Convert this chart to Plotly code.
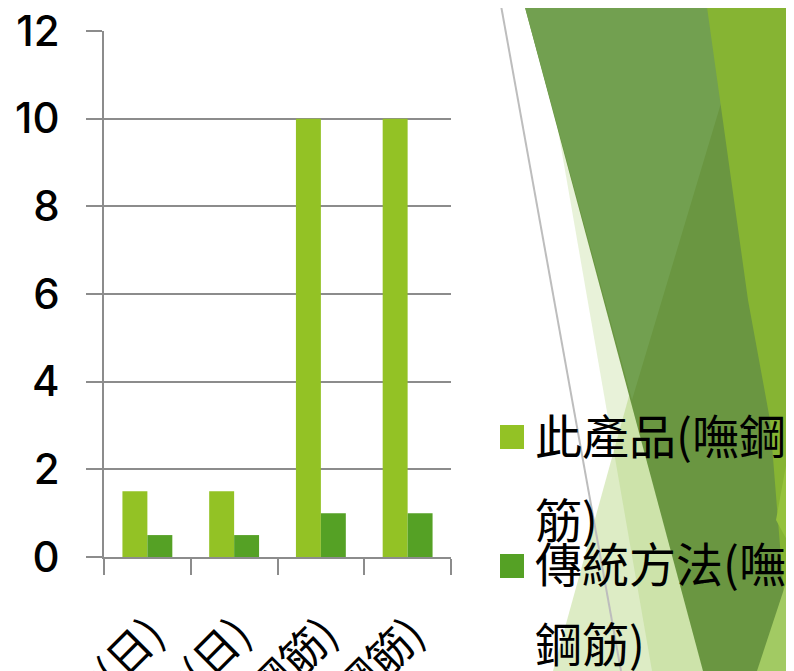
import plotly.graph_objects as go

# ---- data ----
categories = ["施工天數(日)", "養護天數(日)", "耐久年限(嘸鋼筋)", "使用年限(嘸鋼筋)"]
series_names = ["此產品(嘸鋼筋)", "傳統方法(嘸鋼筋)"]
product_values = [1.5, 1.5, 10, 10]
traditional_values = [0.5, 0.5, 1, 1]
y_tick_values = [0, 2, 4, 6, 8, 10, 12]

colors = ["#93C225", "#55A125"]

# ---- layout geometry (picture pixels; page body has an 8px offset) ----
OFF = 8
FIG_W, FIG_H = 794, 671
L, R, T, B = 104 - OFF, 451 - OFF, 31 - OFF, 557 - OFF
W, H = R - L, B - T


def px(x):
    return (x - OFF - L) / W


def py(y):
    return (B - (y - OFF)) / H


def path(points):
    return "M " + " L ".join(f"{px(x):.4f},{py(y):.4f}" for x, y in points) + " Z"


FONT = "Inter, Open Sans, Noto Sans CJK TC, sans-serif"
CJK = "Noto Sans CJK TC, sans-serif"

fig = go.Figure()
fig.add_trace(go.Bar(x=categories, y=product_values, name=series_names[0],
                     marker=dict(color=colors[0], line=dict(width=0)), showlegend=False))
fig.add_trace(go.Bar(x=categories, y=traditional_values, name=series_names[1],
                     marker=dict(color=colors[1], line=dict(width=0)), showlegend=False))

# ---- decorative background (slide theme facets) ----
bg = [
    ([(558, 130), (652, 671), (760, 671), (700, 130)], "rgba(141,191,63,0.20)"),
    ([(553, 671), (650, 320), (760, 671)], "rgba(141,191,63,0.30)"),
    ([(523, 0), (820, 0), (820, 700), (703, 671)], "#6A9641"),
    ([(523, 0), (752, 0), (632, 400)], "#72A050"),
    ([(706, 0), (820, 0), (820, 700), (790, 671), (770, 420), (748, 300)], "#86B433"),
    ([(820, 280), (820, 600), (776, 520)], "#95C23D"),
    ([(757, 671), (820, 480), (820, 700)], "#A2CA63"),
]
shapes = []
for pts, col in bg:
    shapes.append(dict(type="path", xref="paper", yref="paper", path=path(pts),
                       fillcolor=col, line=dict(width=0), layer="below"))
shapes.append(dict(type="line", xref="paper", yref="paper",
                   x0=px(500), y0=py(0), x1=px(621), y1=py(671),
                   line=dict(color="#BDBDBD", width=2), layer="below"))

# ---- legend drawn as markers + wrapped text ----
annotations = []
legend_rows = [(433, 517), (561, 641)]
marker_rows = [437, 566]
for i, name in enumerate(series_names):
    y1, y2 = legend_rows[i]
    m = marker_rows[i]
    shapes.append(dict(type="rect", xref="paper", yref="paper",
                       x0=px(500), x1=px(524), y0=py(m - 12), y1=py(m + 12),
                       fillcolor=colors[i], line=dict(width=0)))
    for txt, yy in ((name[:6], y1), (name[6:], y2)):
        annotations.append(dict(xref="paper", yref="paper", x=px(533), y=py(yy),
                                text=txt, showarrow=False, xanchor="left", yanchor="middle",
                                font=dict(family=CJK, size=47, color="#000000")))

fig.update_layout(
    template="none",
    width=FIG_W, height=FIG_H,
    margin=dict(l=L, r=FIG_W - R, t=T, b=FIG_H - B, pad=0),
    paper_bgcolor="white", plot_bgcolor="rgba(0,0,0,0)",
    barmode="group", bargap=0.425, bargroupgap=0,
    showlegend=False, hovermode=False,
    shapes=shapes, annotations=annotations,
    xaxis=dict(type="category", tickson="boundaries", ticks="outside", ticklen=16,
               tickwidth=2, tickcolor="#8C8C8C", showline=True, linecolor="#8C8C8C",
               linewidth=2, showgrid=False, zeroline=False, tickangle=-45,
               tickfont=dict(family=CJK, size=44, color="#000000"),
               automargin=False, ticklabelstandoff=32, ticklabelshift=4,
               ticklabeloverflow="allow"),
    yaxis=dict(range=[0, 12], tickvals=y_tick_values, ticks="outside", ticklen=16,
               tickwidth=2, tickcolor="#8C8C8C", showline=True, linecolor="#8C8C8C",
               linewidth=2, showgrid=True, gridcolor="#8C8C8C", gridwidth=2,
               zeroline=False,
               tickfont=dict(family=FONT, size=42, color="#000000", weight=500),
               automargin=False, ticklabelstandoff=18, ticklabeloverflow="allow"),
)

fig.write_html("out.html")
